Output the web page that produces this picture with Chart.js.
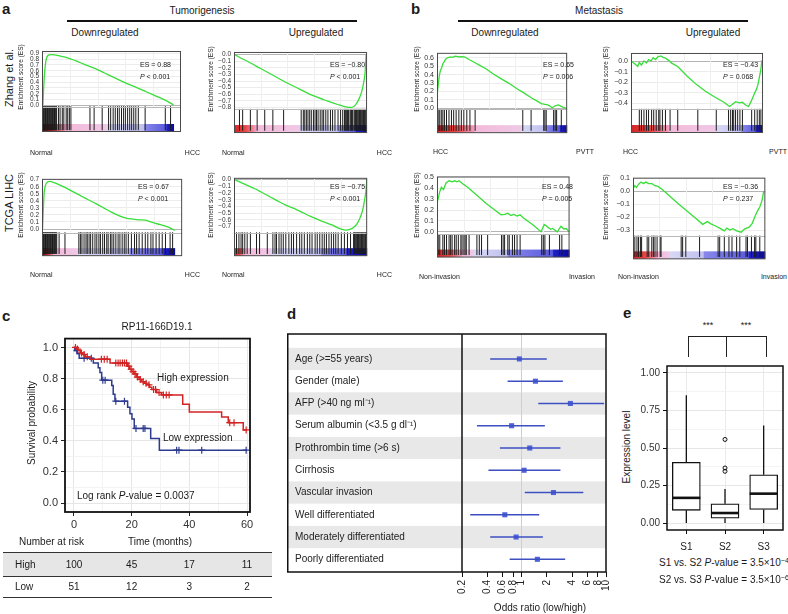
<!DOCTYPE html>
<html>
<head>
<meta charset="utf-8">
<title>GSEA / survival / forest / box figure</title>
<script src="https://cdn.jsdelivr.net/npm/chart.js@4.4.1/dist/chart.umd.min.js"></script>
<style>
  html, body { margin: 0; padding: 0; background: #fff; }
  #fig { position: relative; width: 788px; height: 614px; overflow: hidden;
         font-family: 'Liberation Sans', Arial, Helvetica, sans-serif; color: #1a1a1a; }
  #fig canvas { position: absolute; }
  .lb { position: absolute; white-space: nowrap; line-height: 1; }
  .rl { position: absolute; }
  sup { font-size: 0.72em; vertical-align: 0; position: relative; top: -0.45em; line-height: 0; }
</style>
</head>
<body>
<div id="fig"></div>
<script>
// ---------- GSEA running enrichment scores (rank %, ES) and hit positions ----------
const zhangDownX = [0.7, 1.2, 1.8, 2.5, 3.3, 4.5, 6.4, 9, 12, 16, 20, 25, 30, 38, 45, 52, 60, 67, 75, 82, 89, 94.7];
const zhangDownES = [0, 0.3, 0.55, 0.72, 0.82, 0.87, 0.88, 0.875, 0.86, 0.84, 0.81, 0.765, 0.715, 0.64, 0.56, 0.48, 0.39, 0.32, 0.235, 0.16, 0.085, 0.005];
const zhangDownHits = [0, 0.5, 1, 1.5, 2, 2.5, 3, 3.5, 4, 4.5, 5, 5.5, 6, 6.5, 7, 7.5, 8, 8.5, 9, 9.5, 10, 10.5,
  11.9, 13, 14.6, 15.7, 17.4, 18.5, 19.7, 20.8, 34.5, 37.5, 43.3, 47.9, 49.4, 51.2, 52.7, 54.3, 55.6, 57.2,
  58.7, 60, 61.6, 63.1, 64.5, 66, 67.5, 69.3, 74.2, 88.7, 92.5];

const zhangUpX = [0.7, 5, 10, 20, 30, 40, 50, 60, 70, 78, 84, 88, 90, 92, 94, 96, 97.5, 98.5, 99.3];
const zhangUpES = [0, -0.05, -0.10, -0.21, -0.32, -0.43, -0.53, -0.625, -0.70, -0.755, -0.79, -0.80, -0.785, -0.74, -0.67, -0.56, -0.42, -0.28, 0];
const zhangUpHits = [4.1, 6.5, 12.3, 17.4, 23.1, 29.2, 37.3, 50.5, 52.1, 53.2, 54.4, 55.6, 56.9, 58.1, 59.7, 60.9, 62,
  63.2, 64.8, 66.2, 67.4, 69, 70.6, 72.5, 74.1, 75.9, 78.2, 80.1, 81.7, 83, 83.6, 84.2, 84.8, 85.4, 86, 87.2, 87.8,
  88.4, 89, 90.2, 90.8, 91.4, 92, 92.6, 93.2, 93.8, 94.4, 95, 95.6, 96.2, 96.8, 97.4, 98, 98.6, 99.2];

const pvttDownX = [0, 1.7, 2.6, 3.5, 4.5, 5.5, 6.4, 8, 10.4, 12, 14, 16, 17.5, 19, 21, 23, 24.6, 28.2, 32.9, 37.6, 43,
  49.4, 55, 61.2, 67, 73, 77, 80.1, 82, 84.9, 86.5, 88.4, 90.8, 93.1, 95.5, 97.9, 99.5];
const pvttDownES = [0.15, 0.38, 0.45, 0.48, 0.53, 0.55, 0.58, 0.60, 0.61, 0.605, 0.62, 0.615, 0.61, 0.615, 0.61, 0.595,
  0.58, 0.55, 0.51, 0.47, 0.41, 0.35, 0.30, 0.236, 0.18, 0.12, 0.085, 0.056, 0.05, 0.04, 0.03, 0.007, 0.03, 0.04, 0.023, 0.007, 0];
const pvttDownHits = [0.9, 2.1, 3.3, 4.5, 5.7, 7.3, 9.2, 11.1, 12.8, 14.7, 16.8, 18.7, 20.6, 22.9, 25.3, 29.3, 65.9,
  72.3, 82, 82.9, 83.9, 89.6, 90.8, 91.9, 95.5];

const pvttUpX = [0.2, 2.8, 5.1, 6.3, 7.9, 9.8, 11.7, 13.3, 15.2, 16.8, 18.6, 20.3, 22.6, 24.3, 26.1, 28.5, 30.8, 35.4,
  42.4, 49.4, 56.4, 63.4, 70.4, 74.6, 76.2, 79.3, 82, 84.4, 86.7, 89, 90.9, 92.5, 93.7, 94.9, 96, 97.2, 98.4, 99.1];
const pvttUpES = [0, -0.024, -0.05, -0.01, -0.037, 0.003, -0.018, 0.016, 0.003, 0.034, 0.016, 0.042, 0.05, 0.037, 0.029,
  0.008, -0.018, -0.05, -0.14, -0.22, -0.285, -0.34, -0.39, -0.43, -0.416, -0.384, -0.395, -0.39, -0.416, -0.43,
  -0.384, -0.337, -0.30, -0.27, -0.23, -0.155, -0.076, 0.008];
const pvttUpHits = [6.3, 7.9, 9.8, 11.7, 13.3, 15.6, 17.2, 19.1, 21, 21.9, 23.8, 26.1, 29.6, 35.4, 50.6, 64.6, 73.9,
  75.5, 76.9, 77.8, 79.2, 80.8, 82.5, 84.4, 91.4, 93.7, 95.6, 97.2, 98.4];

const tcgaDownX = [0.4, 1, 1.5, 2.2, 3.1, 5.3, 8.6, 12, 16.4, 22, 27.4, 33, 38.4, 44, 49.5, 56.1, 60, 64.9, 69.3, 73.7, 77, 80.3, 84, 87, 91, 94.7];
const tcgaDownES = [0, 0.3, 0.51, 0.6, 0.65, 0.677, 0.66, 0.63, 0.59, 0.53, 0.475, 0.415, 0.36, 0.30, 0.24, 0.18, 0.155,
  0.14, 0.13, 0.125, 0.105, 0.085, 0.065, 0.047, 0.02, -0.02];
const tcgaDownHits = [0, 0.5, 1, 1.5, 2, 2.5, 3, 3.5, 4, 4.5, 5, 5.5, 6, 6.5, 7, 7.5, 8, 8.5, 9, 9.5, 10, 10.5,
  12.2, 16.4, 26.3, 27.4, 28.5, 30, 31.4, 32.3, 33.6, 34.7, 36.2, 37.8, 39.1, 40.6, 41.7, 43.3, 44.6, 46.2, 47.2,
  48.8, 49.9, 51.2, 52.7, 54.3, 55.6, 57.2, 58.7, 60, 61.6, 63.8, 66, 67.5, 69.3, 71.5, 73.7, 75.5, 77.7, 79.2,
  81.4, 83.6, 85.8, 88.1, 91.4, 93.2];

const tcgaUpX = [0.7, 5, 10, 15.7, 20, 27.3, 33, 38.9, 45, 50.5, 56, 62, 68, 73.6, 77, 80.5, 84, 87.5, 90, 92.1, 94, 95.6, 97, 97.9, 99, 99.8];
const tcgaUpES = [0, -0.04, -0.085, -0.135, -0.18, -0.258, -0.32, -0.38, -0.43, -0.48, -0.535, -0.586, -0.635, -0.676,
  -0.71, -0.74, -0.755, -0.74, -0.71, -0.667, -0.60, -0.52, -0.42, -0.32, -0.18, 0];
const tcgaUpHits = [1.9, 3.7, 5.3, 6.5, 8.1, 9.9, 12.3, 16.9, 19.2, 25, 29.2, 30.8, 31.9, 33.8, 35.4, 37, 38.9, 41.2,
  43.1, 44.7, 47, 49.3, 50.9, 52.8, 55.1, 56.9, 58.6, 60.9, 62.5, 64.4, 66.2, 67.8, 69.4, 71.3, 73.1, 74.8, 76.4,
  78.2, 80.6, 82.9, 85.2, 87.5, 89.8, 90.4, 91, 91.6, 92.2, 92.8, 93.4, 94, 94.6, 95.2, 95.8, 96.4, 97, 97.6, 98.2, 98.8, 99.4];

const invDownX = [0.2, 2.1, 3.3, 4.9, 6.8, 9.1, 11.4, 13.3, 15, 16.6, 19.6, 23.1, 30.1, 37.1, 44.1, 48.3, 51, 53.4, 55.7,
  58, 60.4, 62.7, 65, 72, 78.5, 80.9, 82.5, 83.7, 86, 87.2, 90.7, 93.5, 95.8, 97.5, 99.6];
const invDownES = [0.27, 0.37, 0.41, 0.39, 0.45, 0.47, 0.46, 0.47, 0.46, 0.47, 0.44, 0.41, 0.336, 0.26, 0.195, 0.156,
  0.16, 0.17, 0.15, 0.16, 0.144, 0.156, 0.13, 0.067, 0, 0.067, 0.055, 0.04, 0.023, 0.03, 0, 0.05, 0.026, 0.03, 0];
const invDownHits = [0.9, 2.1, 4.4, 5.6, 7.2, 9.1, 10.3, 11.4, 13.3, 14.5, 16.1, 18, 18.9, 20.3, 21.2, 22.1, 24.2, 30.1,
  31.9, 33.6, 38.2, 48.7, 49.9, 51, 53.4, 54.5, 56.9, 58.5, 60.4, 62.7, 79, 80.2, 81.4, 84.8, 92.5, 94.2];

const invUpX = [0.2, 1.4, 2.6, 4.2, 6.1, 7.9, 9.6, 11.9, 14.2, 16.6, 18.9, 22.4, 27, 34, 41, 48, 52.7, 56.2, 58.5, 62,
  65.5, 69, 70.9, 73.2, 75.6, 78.3, 81.8, 84.2, 87.7, 90, 92.3, 94.2, 95.8, 97.4, 98.8];
const invUpES = [0.021, 0.042, 0.028, 0.053, 0.07, 0.058, 0.07, 0.058, 0.058, 0.042, 0.036, 0.01, -0.032, -0.096, -0.156,
  -0.214, -0.256, -0.235, -0.25, -0.267, -0.285, -0.306, -0.285, -0.30, -0.29, -0.306, -0.317, -0.293, -0.278, -0.25,
  -0.192, -0.15, -0.122, -0.075, 0];
const invUpHits = [1.4, 3, 4.2, 5.6, 6.5, 10.7, 11.9, 14.2, 15.4, 16.6, 18.2, 20.5, 21.2, 36.4, 37.5, 39.9, 50.3, 64.3,
  65.5, 69, 72.5, 74.8, 78.3, 80.7, 85.4, 86.5, 89.5, 91.9, 92.8, 95.8];

const ticksZhangDown = [0, 0.1, 0.2, 0.3, 0.4, 0.5, 0.6, 0.7, 0.8, 0.9];
const ticksZhangUp = [0, -0.1, -0.2, -0.3, -0.4, -0.5, -0.6, -0.7, -0.8];
const ticksPvttDown = [0, 0.1, 0.2, 0.3, 0.4, 0.5, 0.6];
const ticksPvttUp = [0, -0.1, -0.2, -0.3, -0.4];
const ticksTcgaDown = [0, 0.1, 0.2, 0.3, 0.4, 0.5, 0.6, 0.7];
const ticksTcgaUp = [0, -0.1, -0.2, -0.3, -0.4, -0.5, -0.6, -0.7];
const ticksInvDown = [0, 0.1, 0.2, 0.3, 0.4, 0.5];
const ticksInvUp = [0.1, 0, -0.1, -0.2, -0.3];
const esGridX = [20, 40, 60, 80];

// ---------- Kaplan-Meier ----------
const kmHighT = [0, 0.8, 1.5, 2.2, 3, 4, 5.5, 12.5, 18.6, 19.3, 20, 20.8, 21.7, 22.6, 23.5, 24.5, 25.2, 26.2, 27, 28.7, 30.4, 37.7, 40, 51.2, 53.5, 58.7, 60];
const kmHighS = [1, 0.99, 0.98, 0.965, 0.955, 0.94, 0.925, 0.90, 0.88, 0.86, 0.845, 0.83, 0.81, 0.795, 0.78, 0.77, 0.76, 0.745, 0.73, 0.71, 0.695, 0.635, 0.585, 0.553, 0.517, 0.47, 0.47];
const kmLowT = [0, 0.3, 1.1, 1.8, 6.7, 8.4, 9, 9.6, 13.1, 13.6, 14.2, 18.6, 19.4, 20.1, 20.9, 26.6, 29.6, 60];
const kmLowS = [1, 0.98, 0.96, 0.93, 0.90, 0.87, 0.84, 0.79, 0.755, 0.70, 0.655, 0.616, 0.575, 0.54, 0.48, 0.415, 0.34, 0.34];
const kmHighCens = [0.5, 1.2, 2.6, 3.5, 4.6, 9.5, 10.5, 11.5, 14.5, 15.3, 16, 16.8, 17.5, 18.2, 19, 19.8, 20.5, 21.2, 22, 23, 24, 25, 26, 27.6, 28.3, 29.5, 31, 32, 33, 54, 55.5, 59.7];
const kmLowCens = [1, 3.5, 6, 10, 10.8, 14.5, 17.5, 21.5, 24, 24.6, 35.6, 36.4, 44.3, 59.7];
const kmXTicks = [0, 10, 20, 30, 40, 50, 60];
const kmYTicks = [0, 0.1, 0.2, 0.3, 0.4, 0.5, 0.6, 0.7, 0.8, 0.9, 1];
const riskTimes = [0, 20, 40, 60];
const riskHigh = [100, 45, 17, 11];
const riskLow = [51, 12, 3, 2];

// ---------- forest plot ----------
const forestLabels = ['Age (>=55 years)', 'Gender (male)', 'AFP (>40 ng ml\u207B\u00B9)', 'Serum albumin (<3.5 g dl\u207B\u00B9)',
  'Prothrombin time (>6 s)', 'Cirrhosis', 'Vascular invasion', 'Well differentiated', 'Moderately differentiated', 'Poorly differentiated'];
const forestOR = [0.95, 1.47, 3.8, 0.77, 1.26, 1.08, 2.4, 0.64, 0.87, 1.55];
const forestLo = [0.43, 0.69, 1.59, 0.30, 0.56, 0.41, 1.1, 0.25, 0.43, 0.73];
const forestHi = [2.0, 3.1, 9.5, 1.9, 2.9, 2.9, 5.4, 1.63, 1.8, 3.3];
const forestTicks = [0.2, 0.4, 0.6, 0.8, 1, 2, 4, 6, 8, 10];

// ---------- box plot ----------
const boxCats = ['S1', 'S2', 'S3'];
const boxMin = [0, 0, 0];
const boxQ1 = [0.085, 0.032, 0.091];
const boxMed = [0.168, 0.067, 0.196];
const boxQ3 = [0.405, 0.128, 0.322];
const boxMax = [0.852, 0.227, 0.65];
const boxOutCat = ['S2', 'S2', 'S2'];
const boxOutVal = [0.557, 0.367, 0.345];
const boxTicks = [0, 0.125, 0.25, 0.375, 0.5, 0.625, 0.75, 0.875, 1];

// ------------------------------------------------------------------
Chart.defaults.font.family = "'Liberation Sans', Arial, Helvetica, sans-serif";
Chart.defaults.color = '#222';
const fig = document.getElementById('fig');
const noUI = { legend: { display: false }, tooltip: { enabled: false } };

function addCanvas(l, t, w, h) {
  const c = document.createElement('canvas');
  c.width = w; c.height = h;
  c.style.left = l + 'px'; c.style.top = t + 'px';
  c.style.width = w + 'px'; c.style.height = h + 'px';
  fig.appendChild(c);
  return c;
}
function txt(html, x, y, size, align, opt) {
  const d = document.createElement('div');
  d.className = 'lb';
  d.innerHTML = html;
  d.style.left = x + 'px'; d.style.top = y + 'px'; d.style.fontSize = size + 'px';
  const tx = align === 'c' ? '-50%' : align === 'r' ? '-100%' : '0';
  d.style.transform = opt && opt.rot ? 'translate(-50%,-50%) rotate(-90deg)' : 'translate(' + tx + ',-50%)';
  if (opt && opt.bold) d.style.fontWeight = 'bold';
  fig.appendChild(d);
}
function rule(x, y, w, h, color) {
  const d = document.createElement('div');
  d.className = 'rl';
  d.style.cssText = 'left:' + x + 'px;top:' + y + 'px;width:' + w + 'px;height:' + h + 'px;background:' + color;
  fig.appendChild(d);
}
const esFmt = v => (v < -1e-9 ? '\u2212' : '') + Math.abs(v).toFixed(1);

function barGradient(ctx, x0, x1, s, dark) {
  const g = ctx.createLinearGradient(x0, 0, x1, 0);
  const f = r => Math.min(1, Math.max(0, (r - s[0]) / (s[5] - s[0])));
  g.addColorStop(0, dark ? '#520707' : '#d42424');
  g.addColorStop(f(s[0] + (s[1] - s[0]) * 0.5), dark ? '#d63030' : '#e84646');
  g.addColorStop(Math.max(0, f(s[1]) - 0.01), '#f09ab8');
  g.addColorStop(f(s[1]), '#f4b9d9');
  g.addColorStop(Math.max(0, f(s[2]) - 0.01), '#efc8e6');
  g.addColorStop(f(s[2]), '#d8d8f5');
  g.addColorStop(Math.max(0, f(s[3]) - 0.01), '#c0c0ef');
  g.addColorStop(f(s[3]), '#8888ea');
  g.addColorStop(Math.max(0, f(s[4]) - 0.01), '#5a5ade');
  g.addColorStop(f(s[4]), '#2020c2');
  g.addColorStop(1, '#0a0a9e');
  return g;
}

// one GSEA panel: ES curve on top, hit lines and ranked-list colour bar below
function gsea(box, yr, esFloor, ticks, xs, ys, hits, segs, dark, tickSize, smooth) {
  const axisW = 24, padT = 6, padB = 1, padR = 1;
  const w = axisW + box[1] - box[0] + padR, h = padT + box[3] - box[2] + padB;
  const cv = addCanvas(box[0] - axisW, box[2] - padT, w, h);
  const upp = (yr[1] - yr[0]) / (box[3] - box[2]);
  const hitTop = esFloor - 2 * upp, hitBot = yr[0] + 5 * upp;
  new Chart(cv, {
    type: 'line',
    data: { datasets: [
      { data: xs.map((x, i) => ({ x: x, y: ys[i] })), borderColor: '#38de38', borderWidth: 1.3, pointRadius: 0,
        cubicInterpolationMode: smooth ? 'monotone' : 'default', tension: 0 },
      { data: hits.map(x => ({ x: x, y: (hitTop + hitBot) / 2 })), showLine: false, pointStyle: 'line',
        pointRotation: 90, pointRadius: (hitTop - hitBot) / upp / 2, pointBorderColor: '#1c1c1c', pointBorderWidth: 1 }
    ] },
    options: {
      responsive: false, animation: false, events: [],
      layout: { padding: { top: padT, bottom: padB, right: padR, left: 0 } },
      plugins: noUI,
      scales: {
        x: { type: 'linear', display: false, min: 0, max: 100 },
        y: { type: 'linear', min: yr[0], max: yr[1],
             afterBuildTicks: s => { s.ticks = ticks.map(v => ({ value: v })); },
             afterFit: s => { s.width = axisW; },
             ticks: { autoSkip: false, font: { size: tickSize }, color: '#333', padding: 3, callback: v => esFmt(v) },
             grid: { drawTicks: false, color: c => (c.tick && Math.abs(c.tick.value) < 1e-9 ? '#b4b4b4' : '#ececec') },
             border: { display: false } }
      }
    },
    plugins: [{
      id: 'gseaDecor',
      beforeDatasetsDraw(ch) {
        const { ctx, chartArea: a, scales } = ch;
        const yf = scales.y.getPixelForValue(esFloor);
        ctx.save();
        ctx.strokeStyle = '#efefef'; ctx.lineWidth = 1;
        esGridX.forEach(v => {
          const x = Math.round(scales.x.getPixelForValue(v)) + 0.5;
          ctx.beginPath(); ctx.moveTo(x, a.top); ctx.lineTo(x, yf); ctx.stroke();
        });
        const x0 = scales.x.getPixelForValue(segs[0]), x1 = scales.x.getPixelForValue(segs[5]);
        ctx.fillStyle = barGradient(ctx, x0, x1, segs, dark);
        ctx.fillRect(x0, a.bottom - 8, x1 - x0, 7.5);
        ctx.restore();
      },
      afterDraw(ch) {
        const { ctx, chartArea: a, scales } = ch;
        ctx.save();
        const yf = Math.round(scales.y.getPixelForValue(esFloor)) + 0.5;
        ctx.strokeStyle = '#b8b8b8'; ctx.lineWidth = 1;
        ctx.beginPath(); ctx.moveTo(a.left, yf); ctx.lineTo(a.right, yf); ctx.stroke();
        ctx.strokeStyle = '#4a4a4a';
        ctx.strokeRect(a.left + 0.5, a.top + 0.5, a.right - a.left - 1, a.bottom - a.top - 1);
        ctx.restore();
      }
    }]
  });
}

gsea([42, 193, 44, 144], [-0.464, 0.942], -0.028, ticksZhangDown, zhangDownX, zhangDownES, zhangDownHits, [0, 17, 47, 74, 90, 95], true, 6.5, true);
gsea([234, 378, 46, 144], [-1.1875, 0.041], -0.825, ticksZhangUp, zhangUpX, zhangUpES, zhangUpHits, [0, 17, 50, 79, 92, 100], false, 6.5, true);
gsea([437, 578, 47, 144], [-0.295, 0.659], -0.013, ticksPvttDown, pvttDownX, pvttDownES, pvttDownHits, [0, 29, 65, 84, 95, 100], false, 7, false);
gsea([631, 774, 47, 144], [-0.682, 0.078], -0.455, ticksPvttUp, pvttUpX, pvttUpES, pvttUpHits, [0, 29, 65, 84, 95, 100], false, 7, false);
gsea([42, 193, 173, 267], [-0.385, 0.712], -0.05, ticksTcgaDown, tcgaDownX, tcgaDownES, tcgaDownHits, [0, 9, 26, 63, 87, 95], true, 6.5, true);
gsea([234, 378, 172, 267], [-1.143, 0.028], -0.79, ticksTcgaUp, tcgaUpX, tcgaUpES, tcgaUpHits, [0, 8.6, 28, 66, 85, 100], false, 6.5, true);
gsea([437, 580, 171, 268], [-0.238, 0.51], -0.023, ticksInvDown, invDownX, invDownES, invDownHits, [0, 19, 28, 54, 88, 100], false, 7, false);
gsea([633, 776, 172, 270], [-0.526, 0.104], -0.344, ticksInvUp, invUpX, invUpES, invUpHits, [0, 19, 28, 54, 88, 100], false, 7, false);

// ---------- Kaplan-Meier chart ----------
function survAt(ts, ss, t) { let s = ss[0]; for (let i = 0; i < ts.length; i++) if (ts[i] <= t) s = ss[i]; return s; }
const kmRed = '#d42323', kmBlue = '#2c3b8e';
const major2 = v => Math.abs(v * 5 - Math.round(v * 5)) < 1e-6;
new Chart(addCanvas(0, 329, 260, 204), {
  type: 'line',
  data: { datasets: [
    { data: kmHighT.map((t, i) => ({ x: t, y: kmHighS[i] })), stepped: 'before', borderColor: kmRed, borderWidth: 1.5, pointRadius: 0 },
    { data: kmLowT.map((t, i) => ({ x: t, y: kmLowS[i] })), stepped: 'before', borderColor: kmBlue, borderWidth: 1.5, pointRadius: 0 },
    { data: kmHighCens.map(t => ({ x: t, y: survAt(kmHighT, kmHighS, t) })), showLine: false, pointStyle: 'cross', pointRadius: 3.5, pointBorderColor: kmRed, pointBorderWidth: 1.2 },
    { data: kmLowCens.map(t => ({ x: t, y: survAt(kmLowT, kmLowS, t) })), showLine: false, pointStyle: 'cross', pointRadius: 3.5, pointBorderColor: kmBlue, pointBorderWidth: 1.2 }
  ] },
  options: {
    responsive: false, animation: false, events: [],
    layout: { padding: { top: 6, right: 10, bottom: 0, left: 0 } },
    plugins: noUI,
    scales: {
      x: { type: 'linear', min: -3.12, max: 61.04,
           afterBuildTicks: s => { s.ticks = kmXTicks.map(v => ({ value: v })); },
           afterFit: s => { s.height = 21; },
           ticks: { autoSkip: false, font: { size: 11 }, color: '#333', padding: 2, callback: v => (v % 20 === 0 ? String(v) : '') },
           grid: { color: c => (c.tick && c.tick.value % 20 === 0 ? '#e6e6e6' : '#f3f3f3'),
                   tickColor: c => (c.tick && c.tick.value % 20 === 0 ? '#222' : 'rgba(0,0,0,0)'), tickLength: 4 },
           border: { display: false } },
      y: { type: 'linear', min: -0.057, max: 1.057,
           afterBuildTicks: s => { s.ticks = kmYTicks.map(v => ({ value: v })); },
           afterFit: s => { s.width = 65; },
           ticks: { autoSkip: false, font: { size: 11 }, color: '#333', padding: 3, callback: v => (major2(v) ? v.toFixed(1) : '') },
           grid: { color: c => (c.tick && major2(c.tick.value) ? '#e6e6e6' : '#f3f3f3'),
                   tickColor: c => (c.tick && major2(c.tick.value) ? '#222' : 'rgba(0,0,0,0)'), tickLength: 4 },
           border: { display: false } }
    }
  },
  plugins: [{ id: 'kmFrame', afterDraw(ch) {
    const { ctx, chartArea: a } = ch;
    ctx.save(); ctx.strokeStyle = '#111'; ctx.lineWidth = 1.8;
    ctx.strokeRect(a.left, a.top, a.right - a.left, a.bottom - a.top); ctx.restore();
  } }]
});

// ---------- forest plot ----------
new Chart(addCanvas(287, 325, 334, 289), {
  type: 'line',
  data: { datasets: [
    { data: forestLo.flatMap((lo, i) => [{ x: lo, y: i }, { x: forestHi[i], y: i }, { x: null, y: null }]),
      borderColor: '#3e4fc2', borderWidth: 1.5, pointRadius: 0, spanGaps: false },
    { data: forestOR.map((v, i) => ({ x: v, y: i })), showLine: false, pointStyle: 'rect', pointRadius: 3.6,
      pointBackgroundColor: '#4e62da', pointBorderWidth: 0 }
  ] },
  options: {
    responsive: false, animation: false, events: [],
    layout: { padding: { left: 8, top: 2, right: 8, bottom: 0 } },
    plugins: noUI,
    scales: {
      x: { type: 'logarithmic', min: 0.2, max: 10,
           afterBuildTicks: s => { s.ticks = forestTicks.map(v => ({ value: v })); },
           afterFit: s => { s.height = 42; },
           ticks: { autoSkip: false, minRotation: 90, maxRotation: 90, font: { size: 10 }, color: '#222', padding: 3,
                    callback: (v, i) => String(forestTicks[i]) },
           grid: { color: c => (c.tick && c.tick.value === 1 ? '#cfcfcf' : 'rgba(0,0,0,0)'), tickColor: '#111', tickLength: 5 },
           border: { display: false } },
      y: { type: 'linear', reverse: true, min: -1.12, max: 9.57,
           afterBuildTicks: s => { s.ticks = forestLabels.map((_, i) => ({ value: i })); },
           afterFit: s => { s.width = 167; },
           ticks: { autoSkip: false, crossAlign: 'far', font: { size: 10 }, color: '#222', callback: v => forestLabels[v] },
           grid: { drawTicks: false, color: 'rgba(0,0,0,0)' },
           border: { display: false } }
    }
  },
  plugins: [{
    id: 'forestDecor',
    beforeDraw(ch) {
      const { ctx, chartArea: a, scales } = ch;
      ctx.save(); ctx.fillStyle = '#e8e8e8';
      forestLabels.forEach((_, i) => {
        if (i % 2) return;
        const y0 = scales.y.getPixelForValue(i - 0.5), y1 = scales.y.getPixelForValue(i + 0.5);
        ctx.fillRect(0, y0, a.right, y1 - y0);
      });
      ctx.restore();
    },
    afterDraw(ch) {
      const { ctx, chartArea: a } = ch;
      ctx.save(); ctx.strokeStyle = '#111'; ctx.lineWidth = 1.5;
      ctx.strokeRect(0.75, a.top, a.right - 0.75, a.bottom - a.top);
      ctx.beginPath(); ctx.moveTo(a.left, a.top); ctx.lineTo(a.left, a.bottom); ctx.stroke();
      ctx.restore();
    }
  }]
});

// ---------- box plot ----------
const major4 = v => Math.abs(v * 4 - Math.round(v * 4)) < 1e-6;
new Chart(addCanvas(637, 357, 151, 197), {
  type: 'bar',
  data: { labels: boxCats, datasets: [
    { data: boxQ1.map((q, i) => [q, boxQ3[i]]), backgroundColor: '#fff', borderColor: '#111', borderWidth: 1.3,
      borderSkipped: false, barThickness: 28 },
    { type: 'line', data: boxOutCat.map((c, i) => ({ x: c, y: boxOutVal[i] })), showLine: false, pointRadius: 2,
      pointBorderColor: '#111', pointBackgroundColor: 'rgba(0,0,0,0)', pointBorderWidth: 1 }
  ] },
  options: {
    responsive: false, animation: false, events: [],
    layout: { padding: { top: 6, right: 2, bottom: 0, left: 0 } },
    plugins: noUI,
    scales: {
      x: { afterFit: s => { s.height = 24; },
           ticks: { font: { size: 10 }, color: '#222', padding: 7 },
           grid: { offset: false, color: '#ebebeb', tickColor: '#111', tickLength: 4 },
           border: { display: false } },
      y: { type: 'linear', min: -0.046, max: 1.046,
           afterBuildTicks: s => { s.ticks = boxTicks.map(v => ({ value: v })); },
           afterFit: s => { s.width = 30; },
           ticks: { autoSkip: false, font: { size: 10 }, color: '#333', padding: 3, callback: v => (major4(v) ? v.toFixed(2) : '') },
           grid: { color: c => (c.tick && major4(c.tick.value) ? '#e6e6e6' : '#f4f4f4'),
                   tickColor: c => (c.tick && major4(c.tick.value) ? '#111' : 'rgba(0,0,0,0)'), tickLength: 4 },
           border: { display: false } }
    }
  },
  plugins: [{
    id: 'boxDecor',
    afterDatasetsDraw(ch) {
      const { ctx, chartArea: a, scales } = ch;
      ctx.save(); ctx.strokeStyle = '#111';
      boxCats.forEach((_, i) => {
        const x = scales.x.getPixelForValue(i);
        ctx.lineWidth = 1.3;
        ctx.beginPath();
        ctx.moveTo(x, scales.y.getPixelForValue(boxQ3[i])); ctx.lineTo(x, scales.y.getPixelForValue(boxMax[i]));
        ctx.moveTo(x, scales.y.getPixelForValue(boxQ1[i])); ctx.lineTo(x, scales.y.getPixelForValue(boxMin[i]));
        ctx.stroke();
        ctx.lineWidth = 2.6;
        const ym = scales.y.getPixelForValue(boxMed[i]);
        ctx.beginPath(); ctx.moveTo(x - 14, ym); ctx.lineTo(x + 14, ym); ctx.stroke();
      });
      ctx.lineWidth = 1.5;
      ctx.strokeRect(a.left, a.top, a.right - a.left, a.bottom - a.top);
      ctx.restore();
    }
  }]
});

// ---------- text, rules, table ----------
txt('a', 2, 7.8, 15, 'l', { bold: true });
txt('b', 411, 7.8, 15, 'l', { bold: true });
txt('c', 2, 314.8, 15, 'l', { bold: true });
txt('d', 287, 312.8, 15, 'l', { bold: true });
txt('e', 623, 311.8, 15, 'l', { bold: true });

txt('Tumorigenesis', 202, 11, 10, 'c');
txt('Metastasis', 599, 11, 10, 'c');
rule(67, 20.3, 290, 1.4, '#111');
rule(458, 20.3, 290, 1.4, '#111');
txt('Downregulated', 105, 33, 10, 'c');
txt('Upregulated', 316, 33, 10, 'c');
txt('Downregulated', 505, 33, 10, 'c');
txt('Upregulated', 713, 33, 10, 'c');
txt('Zhang et al.', 9, 78, 11, 'c', { rot: true });
txt('TCGA LIHC', 9, 203, 11, 'c', { rot: true });

[[21, 77], [211, 79], [417, 79], [606, 79], [21, 205], [211, 205], [417, 205], [606, 207]].forEach(p =>
  txt('Enrichment score (ES)', p[0], p[1], 6.5, 'c', { rot: true }));

[[140, 64, 'ES = 0.88', '&lt; 0.001'], [330, 64, 'ES = \u22120.80', '&lt; 0.001'],
 [543, 64, 'ES = 0.65', '= 0.006'], [723, 64, 'ES = \u22120.43', '= 0.068'],
 [138, 186, 'ES = 0.67', '&lt; 0.001'], [330, 186, 'ES = \u22120.75', '&lt; 0.001'],
 [542, 186, 'ES = 0.48', '= 0.005'], [723, 186, 'ES = \u22120.36', '= 0.237']].forEach(p => {
  txt(p[2], p[0], p[1], 7, 'l');
  txt('<i>P</i> ' + p[3], p[0], p[1] + 11.5, 7, 'l');
});

[['Normal', 30, 152, 'l'], ['HCC', 200, 152, 'r'], ['Normal', 222, 152, 'l'], ['HCC', 392, 152, 'r'],
 ['HCC', 433, 151, 'l'], ['PVTT', 594, 151, 'r'], ['HCC', 623, 151, 'l'], ['PVTT', 787, 151, 'r'],
 ['Normal', 30, 274, 'l'], ['HCC', 200, 274, 'r'], ['Normal', 222, 274, 'l'], ['HCC', 392, 274, 'r'],
 ['Non-invasion', 419, 276, 'l'], ['Invasion', 595, 276, 'r'], ['Non-invasion', 618, 276, 'l'], ['Invasion', 787, 276, 'r']]
 .forEach(p => txt(p[0], p[1], p[2], 7, p[3]));

// KM labels and risk table
txt('RP11-166D19.1', 157, 327, 10, 'c');
txt('High expression', 157, 378, 10, 'l');
txt('Low expression', 163, 438, 10, 'l');
txt('Log rank <i>P</i>-value = 0.0037', 77, 496, 10, 'l');
txt('Survival probability', 32, 423, 10, 'c', { rot: true });
txt('Number at risk', 19, 542, 10, 'l');
txt('Time (months)', 160, 542, 10, 'c');
rule(3, 552, 269, 24, '#e6e6e6');
rule(3, 552, 269, 1, '#333');
rule(3, 576, 269, 1, '#333');
rule(3, 597, 269, 1, '#333');
txt('High', 15, 565, 10, 'l');
txt('Low', 15, 587, 10, 'l');
riskTimes.forEach((t, i) => {
  const x = 74 + t * 2.883;
  txt(String(riskHigh[i]), x, 565, 10, 'c');
  txt(String(riskLow[i]), x, 587, 10, 'c');
});

// forest axis title
txt('Odds ratio (low/high)', 540, 608, 10, 'c');

// box plot labels and bracket
txt('Expression level', 627, 447, 10, 'c', { rot: true });
txt('***', 708, 325, 9, 'c');
txt('***', 746, 325, 9, 'c');
rule(688, 335.5, 78, 1.3, '#222');
rule(687.5, 335.5, 1.3, 21, '#222');
rule(725.5, 335.5, 1.3, 21, '#222');
rule(765.5, 335.5, 1.3, 21, '#222');
txt('S1 vs. S2 <i>P</i>-value = 3.5\u00D710<sup>\u22124</sup>', 659, 563, 10, 'l');
txt('S2 vs. S3 <i>P</i>-value = 3.5\u00D710<sup>\u22126</sup>', 659, 580, 10, 'l');
</script>
</body>
</html>
